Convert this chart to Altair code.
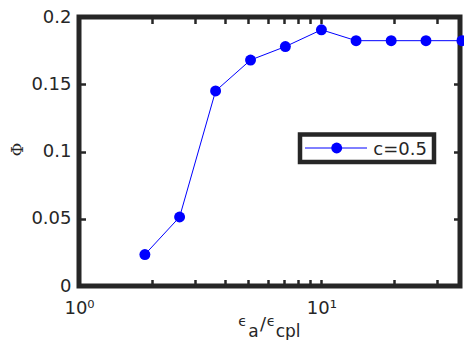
import altair as alt
import pandas as pd

# ---- data ----
ratio = [1.87, 2.6, 3.66, 5.1, 7.1, 10.0, 13.9, 19.4, 27.0, 38.0]
phi = [0.0234, 0.0513, 0.145, 0.168, 0.178, 0.1905, 0.1824, 0.1824, 0.1824, 0.1824]
series_name = "c=0.5"
x_tick_values = [1, 2, 3, 4, 5, 6, 7, 8, 9, 10, 20, 30]
y_tick_values = [0, 0.05, 0.1, 0.15, 0.2]

df = pd.DataFrame({"ratio": ratio, "phi": phi, "series": [series_name] * len(ratio)})
leg_df = pd.DataFrame({"series": [series_name]})

FRAME = "#262626"
BLUE = "#0000ff"
FONT = "DejaVu Sans"

xscale = alt.Scale(type="log", domain=[1, 37.3], nice=False)
yscale = alt.Scale(domain=[0, 0.2], nice=False, zero=False)

tick_style = dict(domain=False, grid=False, tickSize=6.5, tickWidth=2.5,
                  tickColor=FRAME, offset=-6.5)

bottom_axis = alt.Axis(
    orient="bottom", values=x_tick_values,
    labelExpr="datum.value == 1 ? '10⁰' : (datum.value == 10 ? '10¹' : '')",
    labelFont=FONT, labelFontSize=18, labelColor=FRAME, labelPadding=13,
    labelFlush=False, labelOverlap=False, title="", **tick_style)
left_axis = alt.Axis(
    orient="left", values=y_tick_values, format="~g",
    labelFont=FONT, labelFontSize=18, labelColor=FRAME, labelPadding=8,
    labelFlush=False, labelOverlap=False,
    title="Φ", titleFont="DejaVu Serif", titleFontSize=17, titleFontWeight="normal",
    titleColor=FRAME, titleX=-68.5, titleY=132, titleAlign="center", titleBaseline="middle",
    **tick_style)
top_axis = alt.Axis(orient="top", values=x_tick_values, labels=False, title="", **tick_style)
right_axis = alt.Axis(orient="right", values=y_tick_values, labels=False, title="", **tick_style)

base = alt.Chart(df).encode(
    x=alt.X("ratio:Q", scale=xscale, axis=bottom_axis),
    y=alt.Y("phi:Q", scale=yscale, axis=left_axis),
)
line = base.mark_line(color=BLUE, strokeWidth=1, clip=False)
pts = base.mark_point(filled=True, size=120, color=BLUE, opacity=1, clip=False)

# legend box (drawn as marks)
leg_box = alt.Chart(leg_df).mark_rect(fill="white", stroke=FRAME, strokeWidth=4.5).encode(
    x=alt.value(221), x2=alt.value(355), y=alt.value(117.5), y2=alt.value(145))
leg_line = alt.Chart(leg_df).mark_rule(color=BLUE, strokeWidth=1).encode(
    x=alt.value(226), x2=alt.value(288), y=alt.value(131))
leg_pt = alt.Chart(leg_df).mark_point(filled=True, size=120, color=BLUE, opacity=1).encode(
    x=alt.value(257.7), y=alt.value(131))
leg_txt = alt.Chart(leg_df).mark_text(align="left", baseline="alphabetic", font=FONT,
                                      fontSize=18, color=FRAME).encode(
    x=alt.value(294.3), y=alt.value(138), text="series:N")

# x axis title with subscripts
def piece(txt, x, y, size):
    return alt.Chart(pd.DataFrame({"t": [txt]})).mark_text(
        align="left", baseline="alphabetic", font=FONT, fontSize=size, color=FRAME
    ).encode(x=alt.value(x), y=alt.value(y), text="t:N")

xtitle = [
    piece("ϵ", 159.3, 309, 14),
    piece("a", 169.3, 320, 17),
    piece("/", 181, 313, 18),
    piece("ϵ", 187.7, 309, 14),
    piece("cpl", 196.7, 320, 17),
]

topright = alt.Chart(df).mark_point(opacity=0).encode(
    x=alt.X("ratio:Q", scale=xscale, axis=top_axis),
    y=alt.Y("phi:Q", scale=yscale, axis=right_axis),
)

main = alt.layer(line, pts, leg_box, leg_line, leg_pt, leg_txt, *xtitle)

chart = alt.layer(main, topright).resolve_scale(x="independent", y="independent").properties(
    width=381, height=269,
    autosize=alt.AutoSizeParams(type="none"),
    padding={"left": 71, "top": 9, "right": 4, "bottom": 54},
).configure_view(stroke=FRAME, strokeWidth=5)

chart.save("out.html", embed_options={"renderer": "svg", "actions": False})
